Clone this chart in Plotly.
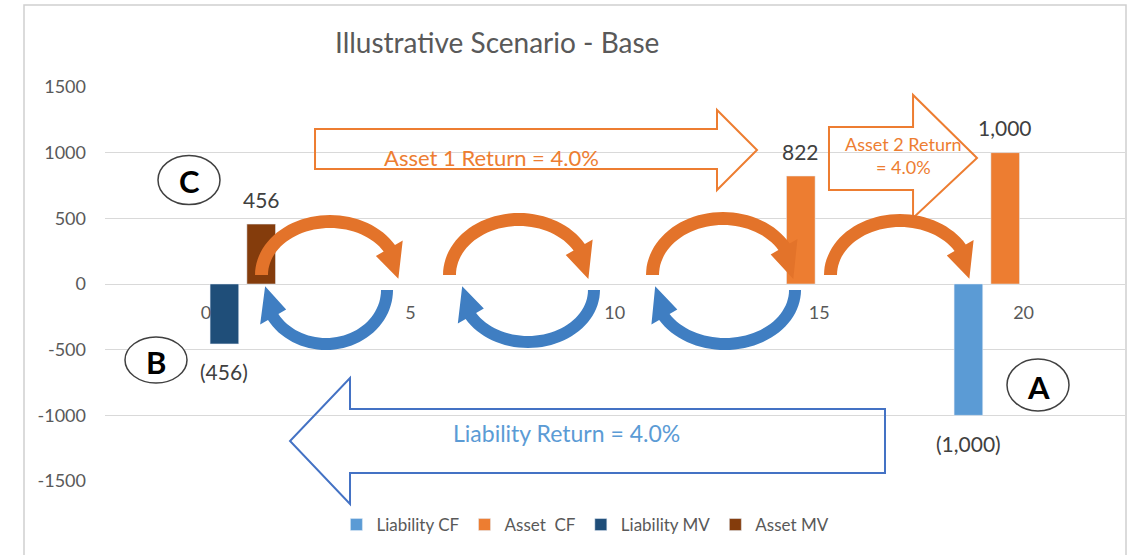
import math
import plotly.graph_objects as go

# datos del grafico
liab_cf_t = [19]
liab_cf = [-1000]
asset_cf_t = [15, 20]
asset_cf = [822, 1000]
liab_mv_t = [0]
liab_mv = [-456]
asset_mv_t = [1]
asset_mv = [456]

x_ticks = [0, 5, 10, 15, 20]
y_ticks = [-1500, -1000, -500, 0, 500, 1000, 1500]

FONT = "Lato, 'Open Sans', sans-serif"
GRAY = "#595959"
BAR_W = 0.7

# area del grafico en pixeles (para las formas decorativas)
L, R, T, B = 105, 1125, 87, 481


def P(x, y):
    # pixel -> paper
    return (x - L) / (R - L), (B - y) / (B - T)


def path(pts):
    s = ""
    for i, (x, y) in enumerate(pts):
        px, py = P(x, y)
        s += ("M" if i == 0 else "L") + f"{px:.4f},{py:.4f} "
    return s + "Z"


def curved_arrow(cx, cy, rx, ry, t, a0, a1, a_tip, w, down=False):
    sg = 1 if down else -1

    def pt(a, rx_, ry_):
        r = math.radians(a)
        return (cx + rx_ * math.cos(r), cy + sg * ry_ * math.sin(r))

    n = 40
    angs = [a0 + (a1 - a0) * i / n for i in range(n + 1)]
    outer = [pt(a, rx, ry) for a in angs]
    inner = [pt(a, rx - t, ry - t) for a in reversed(angs)]
    head = [pt(a1, rx + w, ry + w), pt(a_tip, rx - t / 2, ry - t / 2), pt(a1, rx - t - w, ry - t - w)]
    return path(outer + head + inner)


fig = go.Figure()

series = [
    ("Liability CF", liab_cf_t, liab_cf, "#5B9BD5", -0.7),
    ("Asset\u00a0 CF", asset_cf_t, asset_cf, "#ED7D31", -0.8),
    ("Liability MV", liab_mv_t, liab_mv, "#1F4E79", 0.1),
    ("Asset MV", asset_mv_t, asset_mv, "#843C0C", 0.0),
]

annotations = []
for name, t, v, col, off in series:
    fig.add_trace(go.Bar(x=t, y=v, name=name, marker_color=col, width=BAR_W, offset=off))
    for xi, yi in zip(t, v):
        txt = f"({abs(yi):,.0f})" if yi < 0 else f"{yi:,.0f}"
        annotations.append(dict(x=xi + off + BAR_W / 2, y=yi, xref="x", yref="y", text=txt,
                                showarrow=False, yshift=25 if yi > 0 else -28,
                                font=dict(size=21, color="#404040", family=FONT)))


def text_px(x, y, txt, size, color, bold=False):
    px, py = P(x, y)
    if bold:
        txt = "<b>" + txt + "</b>"
    annotations.append(dict(x=px, y=py, xref="paper", yref="paper", text=txt, showarrow=False,
                            xanchor="center", yanchor="middle",
                            font=dict(size=size, color=color, family=FONT)))


text_px(497, 42, "Illustrative Scenario - Base", 28, GRAY)
text_px(491, 157, "Asset 1 Return = 4.0%", 22, "#ED7D31")
text_px(903, 155, "Asset 2 Return<br>= 4.0%", 18, "#ED7D31")
text_px(566, 433, "Liability Return = 4.0%", 23, "#5B9BD5")
text_px(189, 181, "C", 31, "black", True)
text_px(156, 362, "B", 31, "black", True)
text_px(1038, 387, "A", 31, "black", True)

shapes = []
# borde exterior
x0, y0 = P(24, 560)
x1, y1 = P(1126, 5)
shapes.append(dict(type="rect", xref="paper", yref="paper", x0=x0, y0=y0, x1=x1, y1=y1,
                   line=dict(color="#D0D0D0", width=1.5), layer="below"))

# flechas grandes
arrows = [
    ([(315, 129), (717, 129), (717, 110), (757, 150), (717, 190), (717, 169), (315, 169)], "#ED7D31"),
    ([(829, 127), (913, 127), (913, 95), (977, 158), (913, 218), (913, 190), (829, 190)], "#ED7D31"),
    ([(885, 409), (350, 409), (350, 378), (290, 441), (350, 504), (350, 473), (885, 473)], "#4472C4"),
]
for pts, col in arrows:
    shapes.append(dict(type="path", xref="paper", yref="paper", path=path(pts),
                       line=dict(color=col, width=2), fillcolor="rgba(0,0,0,0)"))

# flechas curvas naranjas (arriba)
for cx, rx, ry in [(330, 75, 60), (519, 76, 62), (723, 77, 63), (900, 76, 61)]:
    shapes.append(dict(type="path", xref="paper", yref="paper",
                       path=curved_arrow(cx, 275, rx, ry, 13, 180, 30, -4, 9),
                       line=dict(width=0), fillcolor="#E3732A"))

# flechas curvas azules (abajo)
for cx, rx, ry in [(326, 67, 60), (528, 72, 58), (725, 76, 60)]:
    shapes.append(dict(type="path", xref="paper", yref="paper",
                       path=curved_arrow(cx, 290, rx, ry, 12, 0, 150, 184, 9, down=True),
                       line=dict(width=0), fillcolor="#3F7EC2"))

# circulos
for cx, cy, w, h in [(189, 180, 62, 49), (156, 360, 62, 46), (1038, 385, 62, 52)]:
    a0, b0 = P(cx - w / 2, cy + h / 2)
    a1, b1 = P(cx + w / 2, cy - h / 2)
    shapes.append(dict(type="circle", xref="paper", yref="paper", x0=a0, y0=b0, x1=a1, y1=b1,
                       line=dict(color="#404040", width=1.5), fillcolor="white", layer="above"))

fig.update_layout(
    width=1145, height=555,
    margin=dict(l=L, r=1145 - R, t=T, b=555 - B),
    paper_bgcolor="white", plot_bgcolor="white",
    barmode="overlay",
    font=dict(family=FONT, color=GRAY),
    showlegend=True,
    legend=dict(orientation="h", x=0.471, y=P(0, 525)[1], xanchor="center", yanchor="middle",
                font=dict(size=17, color=GRAY, family=FONT), bgcolor="rgba(0,0,0,0)"),
    annotations=annotations,
    shapes=shapes,
)

x_lo = (L - 206) / 40.88
x_hi = (R - 206) / 40.88
fig.update_xaxes(range=[x_lo, x_hi], tickvals=x_ticks, showgrid=False, zeroline=False,
                 showline=False, anchor="free", position=0.5, ticks="",
                 ticklabelstandoff=16, tickfont=dict(size=18, color=GRAY, family=FONT))
fig.update_yaxes(range=[-1500, 1500], tickvals=y_ticks, ticktext=[str(v) for v in y_ticks],
                 showgrid=True, gridcolor="#D9D9D9",
                 zeroline=True, zerolinecolor="#D9D9D9", zerolinewidth=1, showline=False,
                 ticklabelstandoff=18, tickfont=dict(size=18, color=GRAY, family=FONT))

# quitar el margen del body para que el grafico empiece en 0,0
fig.write_html("out.html", config={"displayModeBar": False},
               post_script="document.body.style.margin='0';")
